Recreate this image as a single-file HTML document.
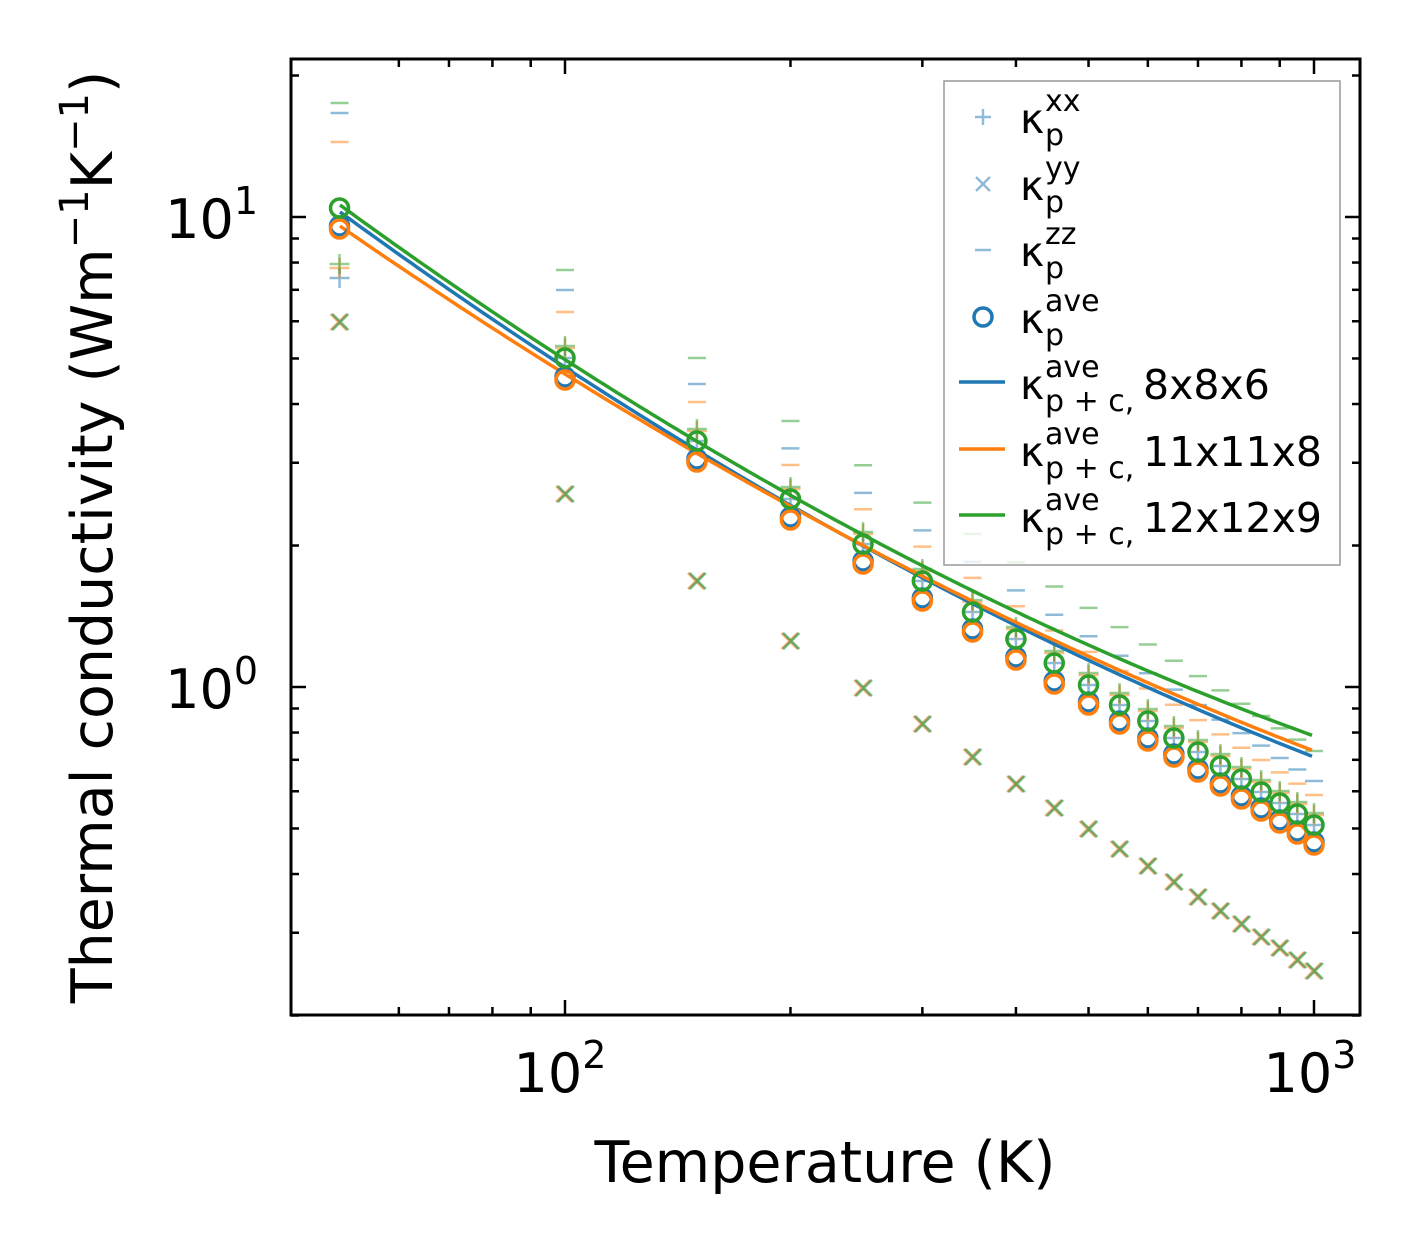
<!DOCTYPE html>
<html><head><meta charset="utf-8"><style>body{margin:0;background:#fff}svg{display:block}</style></head>
<body>
<svg id="s" width="1421" height="1254" xmlns="http://www.w3.org/2000/svg" font-family="'DejaVu Sans','Liberation Sans',sans-serif"></svg>
<script>
const s=document.getElementById('s');let h='';
const X=t=>565+749*Math.log10(t/100);
const T=[];for(let t=50;t<=1000;t+=50)T.push(t);
const oc=[229,380,462,520,564,601,632,660,684,705,724,741,757,772,786,799,811,823,834,845];
const gc=[208,358,441,499,544,581,612,639,663,685,705,721,738,752,766,779,792,803,814,825];
const xy=[322,494,581,641,688,724,757,784,808,829,849,866,882,897,911,924,937,948,960,971];
const B='#1f77b4',O='#ff7f0e',G='#2ca02c';
T.forEach((t,i)=>{const x=X(t);let f=i/19;
 let off=i==0?[-87,-116,-126]:i==1?[-68,-90,-110]:i==2?[-60,-78,-104]:[-56+6*f,-73+9*f,-100+6*f];
 [[O,off[0]],[B,off[1]],[G,off[2]]].forEach(([c,o])=>{const y=oc[i]+o;h+=`<line x1="${x-9}" x2="${x+9}" y1="${y}" y2="${y}" stroke="${c}" stroke-opacity="0.5" stroke-width="2.5"/>`;});
});
T.forEach((t,i)=>{const x=X(t),y=xy[i];[[B,0],[O,-1],[G,1]].forEach(([c,d])=>{h+=`<path d="M${x-8+d} ${y-8}L${x+8+d} ${y+8}M${x-8+d} ${y+8}L${x+8+d} ${y-8}" stroke="${c}" stroke-opacity="0.5" stroke-width="2.5"/>`;});});
T.forEach((t,i)=>{const x=X(t);let pts=i==0?[[B,278],[O,268],[G,264]]:[[B,gc[i]],[O,gc[i]-10],[G,gc[i]-12]];
 pts.forEach(([c,y])=>{h+=`<path d="M${x-10} ${y}H${x+10}M${x} ${y-10}V${y+10}" stroke="${c}" stroke-opacity="0.5" stroke-width="2.5"/>`;});});
const Q=(p,c)=>{const [a,b,d]=p;const s01=(b[1]-a[1])/(b[0]-a[0]),s12=(d[1]-b[1])/(d[0]-b[0]),k=(s12-s01)/(d[0]-a[0]);
 let pts=[];for(let x=340;x<=1314;x+=6){pts.push(x+','+(a[1]+s01*(x-a[0])+k*(x-a[0])*(x-b[0])).toFixed(1));}
 h+=`<polyline fill="none" stroke="${c}" stroke-width="3.5" points="${pts.join(' ')}"/>`;};
Q([[340,212],[790,505],[1314,757]],B);
Q([[340,226],[790,506],[1314,751]],O);
Q([[340,205],[790,495],[1314,736]],G);
T.forEach((t,i)=>{const x=X(t);h+=`<circle cx="${x}" cy="${oc[i]-3}" r="9" fill="none" stroke="${B}" stroke-width="3.5"/>`;});
T.forEach((t,i)=>{const x=X(t);h+=`<circle cx="${x}" cy="${oc[i]}" r="9" fill="none" stroke="${O}" stroke-width="3.5"/>`;});
T.forEach((t,i)=>{const x=X(t);h+=`<circle cx="${x}" cy="${gc[i]}" r="9" fill="none" stroke="${G}" stroke-width="3.5"/>`;});
h+=`<rect x="291" y="59" width="1069" height="956" fill="none" stroke="#000" stroke-width="3"/>`;
const tk=(x,len)=>{h+=`<line x1="${x}" x2="${x}" y1="1015" y2="${1015-len}" stroke="#000" stroke-width="2.5"/><line x1="${x}" x2="${x}" y1="59" y2="${59+len}" stroke="#000" stroke-width="2.5"/>`;};
[60,70,80,90,200,300,400,500,600,700,800,900].forEach(t=>tk(X(t),8));[100,1000].forEach(t=>tk(X(t),15));
const Y=v=>687-470*Math.log10(v);
const tky=(y,len)=>{h+=`<line x1="291" x2="${291+len}" y1="${y}" y2="${y}" stroke="#000" stroke-width="2.5"/><line x1="1360" x2="${1360-len}" y1="${y}" y2="${y}" stroke="#000" stroke-width="2.5"/>`;};
[0.2,0.3,0.4,0.5,0.6,0.7,0.8,0.9,2,3,4,5,6,7,8,9,20].forEach(v=>tky(Y(v),8));[1,10].forEach(v=>tky(Y(v),15));
const tl=(x,y,e,anc)=>{h+=`<text x="${x}" y="${y}" font-size="54" text-anchor="${anc}">10<tspan font-size="38" dy="-24">${e}</tspan></text>`;};
tl(560,1092,'2','middle');tl(1310,1092,'3','middle');
tl(258,708,'0','end');tl(258,238,'1','end');
h+=`<text x="825" y="1182" font-size="57" text-anchor="middle">Temperature (K)</text>`;
h+=`<text transform="translate(112,537) rotate(-90)" font-size="57" text-anchor="middle">Thermal conductivity (Wm<tspan font-size="40" dy="-24">−1</tspan><tspan dy="24">K</tspan><tspan font-size="40" dy="-24">−1</tspan><tspan dy="24">)</tspan></text>`;
h+=`<rect x="944" y="81" width="396" height="484" fill="#fff" fill-opacity="0.8" stroke="#999" stroke-width="1.5"/>`;
h+=`<path d="M975 117H991M983 109V125" stroke="${B}" stroke-opacity="0.5" stroke-width="2.5"/>`;
h+=`<path d="M976 177L990 191M976 191L990 177" stroke="${B}" stroke-opacity="0.5" stroke-width="2.5"/>`;
h+=`<path d="M975 250H991" stroke="${B}" stroke-opacity="0.5" stroke-width="2.5"/>`;
h+=`<circle cx="983" cy="317" r="9" fill="none" stroke="${B}" stroke-width="3.5"/>`;
[[B,382],[O,449],[G,515]].forEach(([c,y])=>h+=`<line x1="959" x2="1005" y1="${y}" y2="${y}" stroke="${c}" stroke-width="3.5"/>`);
const lab=(y,sup,sub,extra)=>{h+=`<text x="1020" y="${y+16}" font-size="41">κ</text><text x="1045" y="${y-6}" font-size="30">${sup}</text><text x="1045" y="${y+28}" font-size="30">${sub}</text>`;if(extra)h+=`<text x="1143" y="${y+16}" font-size="41">${extra}</text>`;};
lab(117,'xx','p');lab(184,'yy','p');lab(250,'zz','p');lab(317,'ave','p');
lab(383,'ave','p + c,','8x8x6');lab(450,'ave','p + c,','11x11x8');lab(516,'ave','p + c,','12x12x9');
s.innerHTML=h;
</script>
</body></html>
